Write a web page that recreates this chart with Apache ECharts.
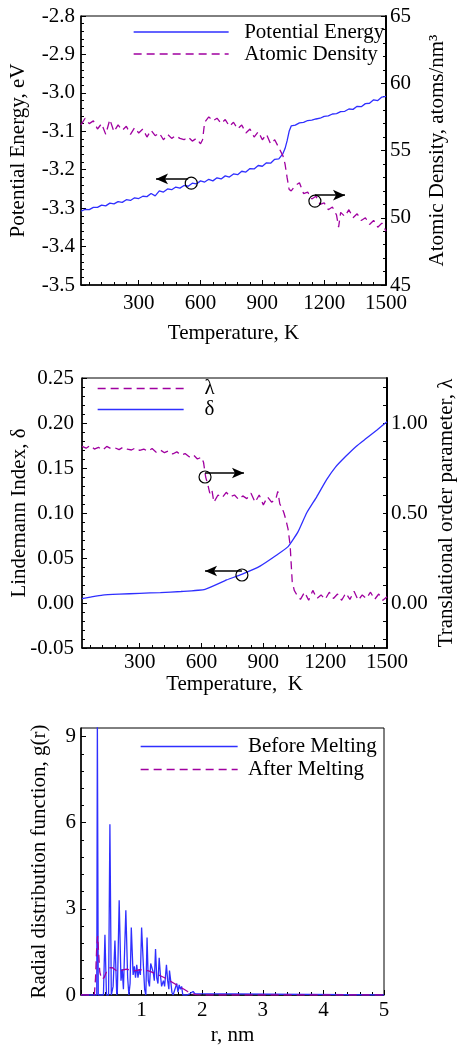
<!DOCTYPE html>
<html><head><meta charset="utf-8">
<script src="https://cdn.jsdelivr.net/npm/echarts@6/dist/echarts.min.js"></script>
<style>html,body{margin:0;padding:0;background:#fff}#c{width:458px;height:1045px}</style>
</head><body><div id="c"></div>
<script>
// ---------- Panel 1 data ----------
const PE_T = [20,40,60,80,100,120,140,160,180,200,220,240,260,280,300,320,340,360,380,400,420,440,460,480,500,520,540,560,580,600,620,640,660,680,700,720,740,760,780,800,820,840,860,880,900,920,940,960,980,1000,1010,1020,1030,1040,1060,1080,1100,1120,1140,1160,1180,1200,1220,1240,1260,1280,1300,1320,1340,1360,1380,1400,1420,1440,1460,1480,1500];
const PE_V = [-3.308,-3.303,-3.304,-3.298,-3.298,-3.292,-3.294,-3.287,-3.289,-3.283,-3.285,-3.278,-3.280,-3.273,-3.275,-3.269,-3.270,-3.262,-3.268,-3.255,-3.258,-3.250,-3.252,-3.245,-3.248,-3.241,-3.243,-3.235,-3.237,-3.229,-3.232,-3.225,-3.229,-3.221,-3.224,-3.216,-3.219,-3.211,-3.213,-3.204,-3.206,-3.197,-3.198,-3.189,-3.191,-3.182,-3.183,-3.173,-3.172,-3.158,-3.145,-3.125,-3.100,-3.086,-3.084,-3.078,-3.077,-3.072,-3.071,-3.068,-3.066,-3.061,-3.060,-3.055,-3.054,-3.049,-3.048,-3.042,-3.043,-3.035,-3.036,-3.028,-3.027,-3.018,-3.020,-3.011,-3.009];
const AD_T = [20,40,60,80,100,120,140,160,180,200,220,240,260,280,300,320,340,360,380,400,420,440,460,480,500,520,540,560,580,600,610,620,640,660,680,700,720,740,760,780,800,820,840,860,880,900,920,940,960,980,1000,1010,1020,1030,1040,1060,1080,1100,1120,1140,1160,1180,1200,1220,1240,1260,1270,1280,1300,1320,1340,1360,1380,1400,1420,1440,1460,1480,1500];
const AD_V = [56.9,57.4,57.0,57.2,56.6,57.0,56.2,57.3,56.4,56.9,56.5,56.8,56.2,56.7,56.3,56.6,56.0,56.5,56.1,56.3,55.8,56.2,55.9,56.1,55.9,55.8,56.0,55.7,55.9,55.5,55.8,57.1,57.5,57.2,57.4,57.0,57.3,56.8,57.1,56.6,56.9,56.3,56.6,56.0,56.4,55.8,56.2,55.5,55.8,55.2,54.6,54.0,53.0,52.1,52.0,52.4,52.6,51.8,51.9,51.4,51.6,51.0,51.1,50.6,50.8,50.2,49.3,50.4,50.1,50.6,50.0,50.3,49.8,50.0,49.5,49.8,49.3,49.6,49.0];
const P1_X_TICKS = [300,600,900,1200,1500];

// ---------- Panel 2 data ----------
const LAM_T = [20,40,60,80,100,120,140,160,180,200,220,240,260,280,300,320,340,360,380,400,420,440,460,480,500,520,540,560,580,600,610,620,630,640,650,660,680,700,720,740,760,780,800,820,840,860,880,900,920,940,960,970,980,990,1000,1010,1020,1030,1035,1040,1050,1060,1080,1100,1120,1140,1160,1180,1200,1220,1240,1260,1280,1300,1320,1340,1360,1380,1400,1420,1440,1460,1480,1500];
const LAM_V = [0.87,0.86,0.875,0.855,0.865,0.85,0.87,0.858,0.862,0.852,0.866,0.855,0.85,0.862,0.848,0.855,0.843,0.858,0.838,0.85,0.835,0.845,0.828,0.84,0.822,0.83,0.812,0.824,0.80,0.81,0.78,0.70,0.66,0.61,0.63,0.56,0.60,0.585,0.615,0.59,0.60,0.575,0.595,0.58,0.61,0.56,0.60,0.545,0.59,0.56,0.575,0.62,0.55,0.53,0.50,0.46,0.41,0.32,0.22,0.12,0.07,0.05,0.02,0.06,0.015,0.07,0.025,0.045,0.02,0.06,0.025,0.05,0.015,0.055,0.02,0.065,0.015,0.045,0.025,0.06,0.02,0.05,0.015,0.035];
const DEL_T = [20,60,120,200,300,400,500,617,722,795,884,965,1020,1068,1110,1159,1207,1250,1300,1350,1400,1450,1500];
const DEL_V = [0.0048,0.0065,0.0088,0.0098,0.0107,0.0116,0.0128,0.0152,0.0256,0.0319,0.041,0.0533,0.0626,0.079,0.100,0.118,0.137,0.151,0.163,0.174,0.183,0.192,0.2015];
const P2_X_TICKS = [300,600,900,1200,1500];
const P2_YR_LABELS = [0,0.5,1.0];
const P2_YR_TICKS = [-0.2,-0.1,0,0.1,0.2,0.3,0.4,0.5,0.6,0.7,0.8,0.9,1.0,1.1,1.2];

// ---------- Panel 3 data ----------
const BM_R = [0,0.26,0.27,0.285,0.37,0.395,0.42,0.455,0.477,0.50,0.53,0.56,0.59,0.60,0.63,0.66,0.68,0.70,0.74,0.77,0.79,0.81,0.83,0.86,0.88,0.90,0.92,0.94,0.96,0.98,1.00,1.03,1.05,1.07,1.09,1.11,1.13,1.15,1.17,1.19,1.21,1.23,1.25,1.27,1.29,1.31,1.33,1.36,1.38,1.41,1.43,1.45,1.46,1.48,1.50,1.52,1.55,1.58,1.60,1.62,1.64,1.66,1.68,1.75,1.80,1.85,1.88,1.90,5.0];
const BM_G = [0,0,9.6,0,0,2.1,0,0,5.95,0,0.3,1.9,0,0.1,3.3,0.5,0.9,0.2,2.95,0.6,0,0.4,2.35,0.7,1.0,0.6,1.05,0.6,0.9,0.7,2.35,1.0,0.2,0,2.0,0.5,0.3,1.1,1.05,0.8,0.5,1.6,0.6,0.4,1.3,0.7,0.3,0.5,0.3,1.05,0.5,0.2,0.85,0.5,0.1,0,0,0.4,0.1,0.35,0.2,0.3,0,0,0.05,0.12,0.05,0,0];
const AM_R = [0,0.22,0.24,0.26,0.275,0.29,0.31,0.34,0.38,0.42,0.47,0.52,0.58,0.64,0.70,0.76,0.82,0.90,0.98,1.06,1.14,1.22,1.30,1.38,1.46,1.54,1.62,1.70,1.76,1.82,1.90,2.0,5.0];
const AM_G = [0,0,0.6,1.7,2.05,1.5,0.8,0.55,0.6,0.8,0.95,0.95,0.85,0.82,0.88,0.9,0.85,0.85,0.88,0.87,0.82,0.75,0.68,0.6,0.5,0.4,0.3,0.2,0.12,0.05,0.01,0,0];
const P3_Y_LABELS = [0,3,6,9];

// ---------- helpers ----------
const FONT = 'Liberation Serif';
const FS = 21;
const BLUE = '#2f2fff', MAG = '#a000a0';
const zip = (a,b) => a.map((v,i)=>[v,b[i]]);
function steps(a,b,s,skip){const r=[];for(let i=0;;i++){const v=+(a+i*s).toFixed(6);if(v>b+1e-9)break;if(!skip||Math.abs(v/skip-Math.round(v/skip))>1e-6)r.push(v);}return r;}
const lbl = (extra) => Object.assign({color:'#000', fontSize:FS, fontFamily:FONT}, extra||{});
const nameStyle = {color:'#000', fontSize:FS, fontFamily:FONT};
const aLine = (w) => ({show:true, onZero:false, lineStyle:{color:'#000', width:w||1.5}});

function xCustom(grid,min,max,ticks,name,gap,margin){
  return {type:'value',gridIndex:grid,min,max,position:'bottom',axisLine:aLine(1.5),
    axisTick:{show:true,inside:true,length:5,customValues:ticks,lineStyle:{color:'#000',width:1}},
    axisLabel:lbl({customValues:ticks,margin:margin,formatter:v=>String(v)}),splitLine:{show:false},
    name:name,nameLocation:'middle',nameGap:gap,nameMoveOverlap:false,nameTextStyle:nameStyle};
}
function minorAxis(grid,min,max,ticks,pos){
  return {type:'value',gridIndex:grid,min,max,position:pos,axisLine:{show:false,onZero:false},
    axisTick:{show:true,inside:true,length:3,customValues:ticks,lineStyle:{color:'#000',width:1}},
    axisLabel:{show:false},splitLine:{show:false}};
}
const minorTick = {show:true,splitNumber:5,length:3,lineStyle:{color:'#000',width:1}};

const mkCircle = (coord) => ({symbol:'circle',symbolSize:12,silent:true,animation:false,
  itemStyle:{color:'rgba(0,0,0,0)',borderColor:'#000',borderWidth:1.2},label:{show:false},data:[{coord}]});
const mkArrow = (from,to) => ({symbol:['none','arrow'],symbolSize:[8,12],silent:true,animation:false,
  label:{show:false},lineStyle:{color:'#000',width:1.5,type:'solid'},emphasis:{disabled:true},
  data:[[{coord:from},{coord:to}]]});
const legendBase = {orient:'vertical',itemGap:0,itemHeight:12,selectedMode:false,padding:0,
  itemStyle:{opacity:0},lineStyle:{width:1.3}};

const chart = echarts.init(document.getElementById('c'), null, {renderer:'canvas'});
const option = {
  animation:false,
  textStyle:{fontFamily:FONT},
  grid:[
    {left:81,top:16,width:305,height:269,show:true,borderColor:'#000',borderWidth:1,containLabel:false,outerBoundsMode:'none'},
    {left:82,top:378,width:305,height:270,show:true,borderColor:'#000',borderWidth:1,containLabel:false,outerBoundsMode:'none'},
    {left:81,top:728,width:303,height:267,show:true,borderColor:'#000',borderWidth:1,containLabel:false,outerBoundsMode:'none'}
  ],
  legend:[
    Object.assign({},legendBase,{data:['Potential Energy','Atomic Density'],left:133,top:21,itemWidth:95,
     formatter:n=>'  '+n,textStyle:{color:'#000',fontSize:FS,fontFamily:FONT,lineHeight:22}}),
    Object.assign({},legendBase,{data:['λ','δ'],left:97,top:378,itemWidth:86,
     formatter:n=>'   '+n,textStyle:{color:'#000',fontSize:FS,fontFamily:FONT,lineHeight:21}}),
    Object.assign({},legendBase,{data:['Before Melting','After Melting'],left:140,top:735,itemWidth:97,
     formatter:n=>' '+n,textStyle:{color:'#000',fontSize:FS,fontFamily:FONT,lineHeight:23}})
  ],
  xAxis:[
    xCustom(0,20,1500,P1_X_TICKS,'Temperature, K',38,8),
    minorAxis(0,20,1500,steps(60,1500,60,300),'bottom'),
    xCustom(1,20,1500,P2_X_TICKS,'Temperature,  K',26,4),
    minorAxis(1,20,1500,steps(60,1500,60,300),'bottom'),
    {type:'value',gridIndex:2,min:0,max:5,interval:1,position:'bottom',axisLine:aLine(1.5),
     axisTick:{show:true,inside:true,length:5,lineStyle:{color:'#000'}},minorTick:minorTick,
     axisLabel:lbl({margin:5,formatter:v=>v===0?'':String(v)}),splitLine:{show:false},minorSplitLine:{show:false},
     name:'r, nm',nameLocation:'middle',nameGap:30,nameMoveOverlap:false,nameTextStyle:nameStyle}
  ],
  yAxis:[
    {type:'value',gridIndex:0,min:-3.5,max:-2.8,interval:0.1,position:'left',axisLine:aLine(1.5),
     axisTick:{show:true,inside:true,length:5,lineStyle:{color:'#000'}},minorTick:minorTick,
     axisLabel:lbl({margin:6,formatter:v=>v.toFixed(1)}),splitLine:{show:false},
     name:'Potential Energy, eV',nameLocation:'middle',nameRotate:90,nameGap:52,nameMoveOverlap:false,nameTextStyle:nameStyle},
    {type:'value',gridIndex:0,min:45,max:65,interval:5,position:'right',axisLine:aLine(2),
     axisTick:{show:true,inside:true,length:5,lineStyle:{color:'#000'}},minorTick:minorTick,
     axisLabel:lbl({margin:4}),splitLine:{show:false},
     name:'Atomic Density, atoms/nm³',nameLocation:'middle',nameRotate:90,nameGap:41,nameMoveOverlap:false,nameTextStyle:nameStyle},
    {type:'value',gridIndex:1,min:-0.05,max:0.25,interval:0.05,position:'left',axisLine:aLine(1.5),
     axisTick:{show:true,inside:true,length:5,lineStyle:{color:'#000'}},minorTick:minorTick,
     axisLabel:lbl({margin:8,formatter:v=>v.toFixed(2)}),splitLine:{show:false},
     name:'Lindemann Index, δ',nameLocation:'middle',nameRotate:90,nameGap:52,nameMoveOverlap:false,nameTextStyle:nameStyle},
    {type:'value',gridIndex:1,min:-0.25,max:1.25,position:'right',axisLine:aLine(2),
     axisTick:{show:true,inside:true,length:4,customValues:P2_YR_TICKS,lineStyle:{color:'#000'}},
     axisLabel:lbl({margin:4,customValues:P2_YR_LABELS,formatter:v=>v.toFixed(2)}),splitLine:{show:false},
     name:'Translational order parameter, λ',nameLocation:'middle',nameRotate:90,nameGap:49,nameMoveOverlap:false,nameTextStyle:nameStyle},
    {type:'value',gridIndex:2,min:0,max:9.3,position:'left',axisLine:aLine(1.5),
     axisTick:{show:true,inside:true,length:5,customValues:P3_Y_LABELS,lineStyle:{color:'#000'}},
     axisLabel:lbl({margin:5,customValues:P3_Y_LABELS}),splitLine:{show:false},
     name:'Radial distribution function, g(r)',nameLocation:'middle',nameRotate:90,nameGap:31,nameMoveOverlap:false,nameTextStyle:nameStyle},
    minorAxis(2,0,9.3,steps(0.6,9.3,0.6,3),'left')
  ],
  series:[
    {name:'Potential Energy',type:'line',xAxisIndex:0,yAxisIndex:0,data:zip(PE_T,PE_V),symbol:'none',
     lineStyle:{color:BLUE,width:1.3},itemStyle:{color:BLUE},
     markPoint:mkCircle([555,-3.235]),markLine:mkArrow([540,-3.224],[384,-3.224])},
    {name:'Atomic Density',type:'line',xAxisIndex:0,yAxisIndex:1,data:zip(AD_T,AD_V),symbol:'none',
     lineStyle:{color:MAG,width:1.3,type:[8,5]},itemStyle:{color:MAG},
     markPoint:mkCircle([1155,51.24]),markLine:mkArrow([1155,51.68],[1301,51.68])},
    {name:'λ',type:'line',xAxisIndex:2,yAxisIndex:3,data:zip(LAM_T,LAM_V),symbol:'none',
     lineStyle:{color:MAG,width:1.3,type:[8,5]},itemStyle:{color:MAG},
     markPoint:mkCircle([617,0.70]),markLine:mkArrow([617,0.722],[806,0.722])},
    {name:'δ',type:'line',xAxisIndex:2,yAxisIndex:2,data:zip(DEL_T,DEL_V),symbol:'none',smooth:0.15,
     lineStyle:{color:BLUE,width:1.3},itemStyle:{color:BLUE},
     markPoint:mkCircle([796,0.0311]),markLine:mkArrow([796,0.0356],[617,0.0356])},
    {name:'Before Melting',type:'line',xAxisIndex:4,yAxisIndex:4,data:zip(BM_R,BM_G),symbol:'none',
     lineStyle:{color:BLUE,width:1.3},itemStyle:{color:BLUE}},
    {name:'After Melting',type:'line',xAxisIndex:4,yAxisIndex:4,data:zip(AM_R,AM_G),symbol:'none',
     lineStyle:{color:MAG,width:1.3,type:[8,5]},itemStyle:{color:MAG}}
  ]
};
chart.setOption(option);
</script></body></html>
